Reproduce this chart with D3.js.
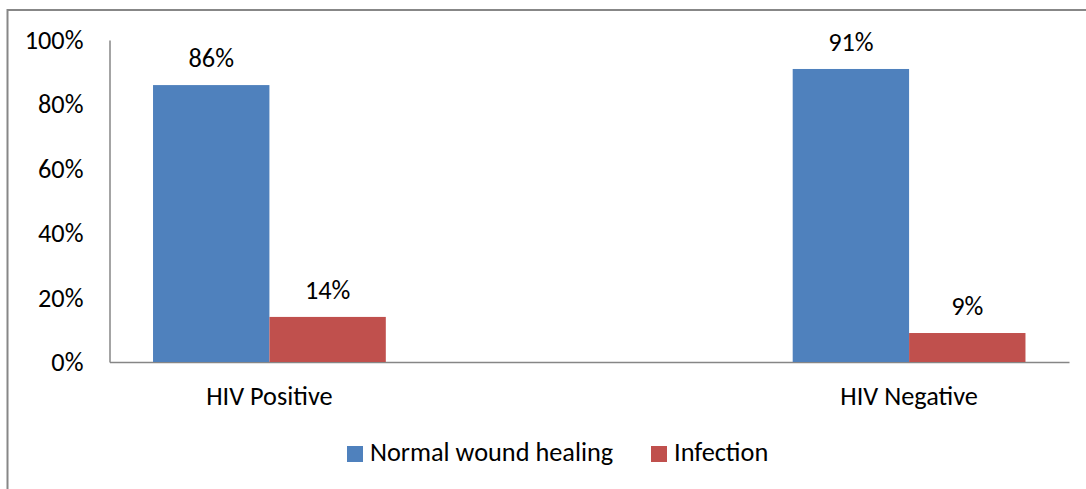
<!DOCTYPE html>
<html>
<head>
<meta charset="utf-8">
<script src="https://cdn.jsdelivr.net/npm/d3@7"></script>
<style>
  html, body { margin: 0; padding: 0; background: #fff; }
  svg text { font-family: Carlito, Calibri, Lato, "Open Sans", sans-serif; fill: #000; }
</style>
</head>
<body>
<svg id="chart" width="1086" height="489"></svg>
<script>
// Categories (the middle slot is an empty spacer category on the axis)
const categories = ["HIV Positive", "", "HIV Negative"];
const seriesNames = ["Normal wound healing", "Infection"];
const normalHealing = [86, null, 91];
const infection = [14, null, 9];
const yTicks = [0, 20, 40, 60, 80, 100];
const colors = ["#4f81bd", "#c0504d"];

const svg = d3.select("#chart");
const fontSize = 26.3;
const fontFamily = "Carlito, Calibri, Lato, 'Open Sans', sans-serif";

// Outer chart frame
svg.append("rect")
  .attr("x", 7.5).attr("y", 10)
  .attr("width", 1200).attr("height", 600)
  .attr("fill", "none").attr("stroke", "#878787").attr("stroke-width", 2);

const plot = { left: 109.5, right: 1069, top: 40, bottom: 362 };

const x = d3.scaleBand()
  .domain(d3.range(categories.length))
  .range([plot.left, plot.right])
  .paddingInner(0).paddingOuter(0);

const series = [normalHealing, infection];
const inner = d3.scaleBand()
  .domain(d3.range(series.length))
  .range([0, x.bandwidth()])
  .paddingInner(0)
  .paddingOuter(0.374);

const y = d3.scaleLinear().domain([0, 100]).range([plot.bottom, plot.top]);

// Y axis line and labels
const yAxis = d3.axisLeft(y).tickValues(yTicks).tickSize(0).tickPadding(26)
  .tickFormat(d => d + "%");
const gy = svg.append("g").attr("transform", `translate(${plot.left},0)`).call(yAxis);
gy.select(".domain").attr("stroke", "#868686").attr("stroke-width", 1.5);
gy.selectAll("text").style("font-size", fontSize + "px")
  .style("font-family", fontFamily).attr("fill", "#000");

// X axis line and category labels
const xAxis = d3.axisBottom(x).tickSize(0).tickPadding(24)
  .tickFormat(i => categories[i]);
const gx = svg.append("g").attr("transform", `translate(0,${plot.bottom})`).call(xAxis);
gx.select(".domain").attr("stroke", "#868686").attr("stroke-width", 1.5);
gx.selectAll("text").style("font-size", fontSize + "px")
  .style("font-family", fontFamily).attr("fill", "#000");

// Bars and value labels
series.forEach((vals, s) => {
  const pts = vals.map((v, i) => ({ v, i })).filter(d => d.v != null);
  svg.append("g").selectAll("rect").data(pts).join("rect")
    .attr("x", d => x(d.i) + inner(s))
    .attr("y", d => y(d.v))
    .attr("width", inner.bandwidth())
    .attr("height", d => y(0) - y(d.v))
    .attr("fill", colors[s]);
  svg.append("g").selectAll("text").data(pts).join("text")
    .attr("x", d => x(d.i) + inner(s) + inner.bandwidth() / 2)
    .attr("y", d => y(d.v) - 18)
    .attr("text-anchor", "middle")
    .style("font-size", fontSize + "px")
    .text(d => d.v + "%");
});

// Legend
const legendItems = [
  { name: seriesNames[0], color: colors[0], x: 347 },
  { name: seriesNames[1], color: colors[1], x: 651 }
];
const lg = svg.append("g");
legendItems.forEach(it => {
  lg.append("rect").attr("x", it.x).attr("y", 446).attr("width", 16).attr("height", 16)
    .attr("fill", it.color);
  lg.append("text").attr("x", it.x + 23).attr("y", 461)
    .style("font-size", fontSize + "px").text(it.name);
});
</script>
</body>
</html>
